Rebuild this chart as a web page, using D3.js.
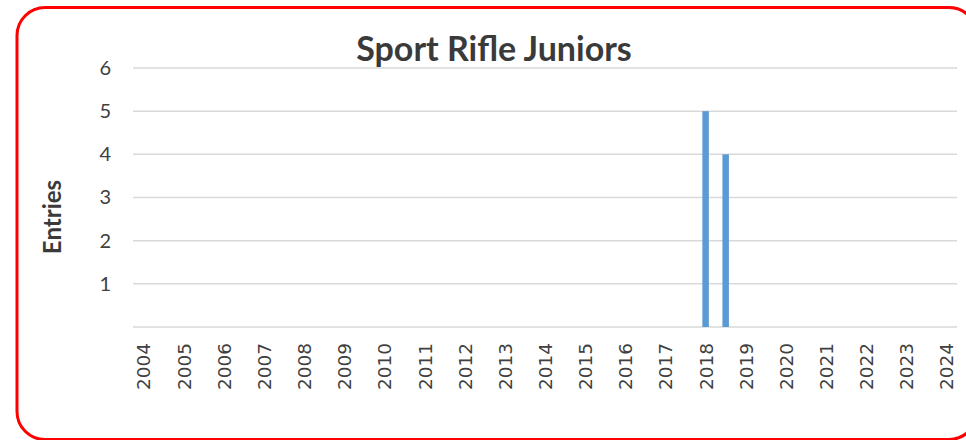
<!DOCTYPE html>
<html>
<head>
<meta charset="utf-8">
<script src="https://cdn.jsdelivr.net/npm/d3@7"></script>
<style>
  html, body { margin: 0; padding: 0; background: #fff; }
  svg { display: block; }
</style>
</head>
<body>
<svg id="chart" width="966" height="440"></svg>
<script>
// Entries per competition; the second 2018 event sits half a year later
const eventYears = [2018, 2018.5];
const entries = [5, 4];
const yearLabels = d3.range(2004, 2025);
const yTicks = [1, 2, 3, 4, 5, 6];

const svg = d3.select("#chart");

// Rounded red frame
svg.append("rect")
  .attr("x", 17).attr("y", 7.5)
  .attr("width", 960).attr("height", 432)
  .attr("rx", 28).attr("ry", 28)
  .attr("fill", "#fff")
  .attr("stroke", "#ff0000")
  .attr("stroke-width", 3);

const plot = { left: 133, right: 957, top: 68, bottom: 327 };

const x = d3.scaleLinear().domain([2004, 2024]).range([143.5, 946.5]);
const y = d3.scaleLinear().domain([0, 6]).range([plot.bottom, plot.top]);

// Horizontal gridlines (including the baseline)
svg.append("g")
  .selectAll("line")
  .data(d3.range(0, 7))
  .join("line")
  .attr("x1", plot.left).attr("x2", plot.right)
  .attr("y1", d => y(d)).attr("y2", d => y(d))
  .attr("stroke", "#d9d9d9")
  .attr("stroke-width", 1.5);

// Y axis tick labels
const yAxis = d3.axisLeft(y).tickValues(yTicks).tickFormat(d3.format("d")).tickSize(0).tickPadding(0);
const yg = svg.append("g").attr("transform", "translate(111,0)").call(yAxis);
yg.select(".domain").remove();
yg.selectAll("text")
  .attr("fill", "#404040")
  .style("font-family", "Lato, 'Open Sans', sans-serif")
  .style("font-size", "20px");

// X axis year labels, rotated
const xAxis = d3.axisBottom(x).tickValues(yearLabels).tickFormat(d3.format("d")).tickSize(0).tickPadding(0);
const xg = svg.append("g").attr("transform", "translate(0,343)").call(xAxis);
xg.select(".domain").remove();
xg.selectAll("text")
  .attr("fill", "#404040")
  .attr("transform", "rotate(-90)")
  .attr("text-anchor", "end")
  .attr("dy", "0.35em")
  .attr("x", 0).attr("y", 0)
  .style("font-family", "'DejaVu Sans', sans-serif")
  .style("font-size", "18.5px");

// Bars
const barW = 6.5;
svg.append("g")
  .selectAll("rect")
  .data(eventYears.map((yr, i) => ({ yr, v: entries[i] })))
  .join("rect")
  .attr("x", d => x(d.yr) - barW / 2)
  .attr("width", barW)
  .attr("y", d => y(d.v))
  .attr("height", d => y(0) - y(d.v))
  .attr("fill", "#5b9bd5");

// Title
svg.append("text")
  .attr("x", 494).attr("y", 61)
  .attr("text-anchor", "middle")
  .attr("fill", "#3a3a3a")
  .style("font-family", "Lato, 'Open Sans', sans-serif")
  .style("font-weight", "bold")
  .style("font-size", "34px")
  .text("Sport Rifle Juniors");

// Y axis title
svg.append("text")
  .attr("transform", "translate(61,217) rotate(-90)")
  .attr("text-anchor", "middle")
  .attr("fill", "#3a3a3a")
  .style("font-family", "Lato, 'Open Sans', sans-serif")
  .style("font-weight", "bold")
  .style("font-size", "24px")
  .text("Entries");
</script>
</body>
</html>
